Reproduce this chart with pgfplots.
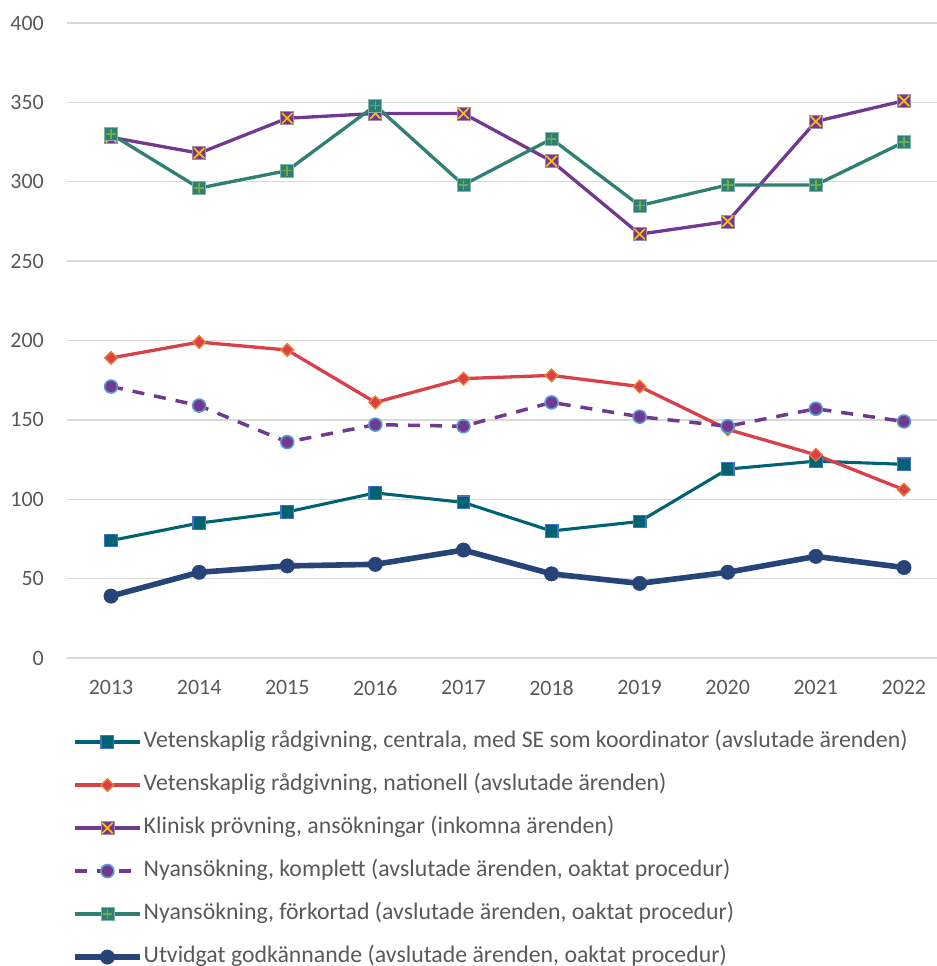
\documentclass[border=0pt]{standalone}
\usepackage{fontspec}
\setmainfont{Carlito}
\usepackage{pgfplots}
\pgfplotsset{compat=1.18}

\definecolor{cteal}{HTML}{006373}
\definecolor{cblueedge}{HTML}{4472C4}
\definecolor{cred}{HTML}{D9414A}
\definecolor{corange}{HTML}{ED7D31}
\definecolor{cpurple}{HTML}{71398F}
\definecolor{cpurpleedge}{HTML}{A58BB8}
\definecolor{cyellow}{HTML}{FFC000}
\definecolor{clightblue}{HTML}{5B9BD5}
\definecolor{cgreen}{HTML}{2F7F74}
\definecolor{cgreenedge}{HTML}{7FB3AB}
\definecolor{cplus}{HTML}{70AD47}
\definecolor{cnavy}{HTML}{264478}
\definecolor{ctext}{HTML}{595959}
\definecolor{cgrid}{HTML}{D9D9D9}

% square with a yellow cross inside
\pgfdeclareplotmark{sqx}{%
  \pgfpathrectangle{\pgfqpoint{-\pgfplotmarksize}{-\pgfplotmarksize}}{\pgfqpoint{2\pgfplotmarksize}{2\pgfplotmarksize}}%
  \pgfusepathqfillstroke
  \pgfscope
  \pgfsetstrokecolor{cyellow}%
  \pgfsetlinewidth{1.7bp}%
  \pgfpathmoveto{\pgfqpoint{-0.8\pgfplotmarksize}{-0.8\pgfplotmarksize}}%
  \pgfpathlineto{\pgfqpoint{0.8\pgfplotmarksize}{0.8\pgfplotmarksize}}%
  \pgfpathmoveto{\pgfqpoint{-0.8\pgfplotmarksize}{0.8\pgfplotmarksize}}%
  \pgfpathlineto{\pgfqpoint{0.8\pgfplotmarksize}{-0.8\pgfplotmarksize}}%
  \pgfusepathqstroke
  \endpgfscope
}
% square with a green plus inside
\pgfdeclareplotmark{sqplus}{%
  \pgfpathrectangle{\pgfqpoint{-\pgfplotmarksize}{-\pgfplotmarksize}}{\pgfqpoint{2\pgfplotmarksize}{2\pgfplotmarksize}}%
  \pgfusepathqfillstroke
  \pgfscope
  \pgfsetstrokecolor{cplus}%
  \pgfsetlinewidth{1.7bp}%
  \pgfpathmoveto{\pgfqpoint{-0.75\pgfplotmarksize}{0pt}}%
  \pgfpathlineto{\pgfqpoint{0.75\pgfplotmarksize}{0pt}}%
  \pgfpathmoveto{\pgfqpoint{0pt}{0.75\pgfplotmarksize}}%
  \pgfpathlineto{\pgfqpoint{0pt}{-0.75\pgfplotmarksize}}%
  \pgfusepathqstroke
  \endpgfscope
}

\begin{document}
\begin{tikzpicture}
\useasboundingbox (-67bp,-308bp) rectangle (870bp,658bp);
\begin{axis}[
  at={(0,0)}, anchor=south west,
  scale only axis, width=881bp, height=635bp,
  xmin=2012.5, xmax=2022.5, ymin=0, ymax=400,
  xtick={2013,...,2022},
  xticklabels={2013,2014,2015,2016,2017,2018,2019,2020,2021,2022},
  ytick={0,50,...,400},
  ymajorgrids, major grid style={color=cgrid, line width=1.3bp},
  axis line style={draw=none}, tick style={draw=none},
  /pgf/number format/assume math mode=true,
  tick label style={font=\fontsize{22}{26}\selectfont, text=ctext, inner sep=0pt},
  yticklabel style={anchor=east, xshift=-23bp},
  xticklabel style={anchor=north, yshift=-22.5bp},
  clip=false,
  legend cell align=left,
  legend style={
    at={(axis description cs:0.0056,-0.1155)}, anchor=north west,
    draw=none, fill=none, inner sep=0pt, row sep=22bp,
    font=\fontsize{23.9}{28}\selectfont, text=ctext,
    nodes={inner sep=0pt, text height=16bp, text depth=5bp},
    /tikz/every odd column/.append style={column sep=1bp},
  },
  legend image code/.code={\draw[mark repeat=2,mark phase=2] plot coordinates {(0bp,0bp)(32.5bp,0bp)(65bp,0bp)};},
]
\addplot[color=cteal, line width=3.1bp, mark=square*, mark size=6.3bp,
  mark options={solid, fill=cteal, draw=cblueedge, line width=1.3bp}]
  coordinates {(2013,74)(2014,85)(2015,92)(2016,104)(2017,98)(2018,80)(2019,86)(2020,119)(2021,124)(2022,122)};
\addlegendentry{Vetenskaplig rådgivning, centrala, med SE som koordinator (avslutade ärenden)}

\addplot[color=cred, line width=3.3bp, mark=square*, mark size=4.5bp,
  mark options={solid, rotate=45, fill=cred, draw=corange, line width=1.3bp}]
  coordinates {(2013,189)(2014,199)(2015,194)(2016,161)(2017,176)(2018,178)(2019,171)(2020,144)(2021,128)(2022,106)};
\addlegendentry{Vetenskaplig rådgivning, nationell (avslutade ärenden)}

\addplot[color=cpurple, line width=3.3bp, mark=sqx, mark size=6.5bp,
  mark options={solid, fill=cpurple, draw=cpurpleedge, line width=0.8bp}]
  coordinates {(2013,328)(2014,318)(2015,340)(2016,343)(2017,343)(2018,313)(2019,267)(2020,275)(2021,338)(2022,351)};
\addlegendentry{Klinisk prövning, ansökningar (inkomna ärenden)}

\addplot[color=cpurple, line width=3.5bp, dash pattern=on 12bp off 10bp, mark=*, mark size=6.5bp,
  mark options={solid, fill=cpurple, draw=clightblue, line width=1.6bp}]
  coordinates {(2013,171)(2014,159)(2015,136)(2016,147)(2017,146)(2018,161)(2019,152)(2020,146)(2021,157)(2022,149)};
\addlegendentry{Nyansökning, komplett (avslutade ärenden, oaktat procedur)}

\addplot[color=cgreen, line width=3.3bp, mark=sqplus, mark size=6.5bp,
  mark options={solid, fill=cgreen, draw=cgreenedge, line width=0.8bp}]
  coordinates {(2013,330)(2014,296)(2015,307)(2016,348)(2017,298)(2018,327)(2019,285)(2020,298)(2021,298)(2022,325)};
\addlegendentry{Nyansökning, förkortad (avslutade ärenden, oaktat procedur)}

\addplot[color=cnavy, line width=5.6bp, mark=*, mark size=7.2bp,
  mark options={solid, fill=cnavy, draw=cnavy, line width=0.5bp}]
  coordinates {(2013,39)(2014,54)(2015,58)(2016,59)(2017,68)(2018,53)(2019,47)(2020,54)(2021,64)(2022,57)};
\addlegendentry{Utvidgat godkännande (avslutade ärenden, oaktat procedur)}
\end{axis}
\end{tikzpicture}
\end{document}
